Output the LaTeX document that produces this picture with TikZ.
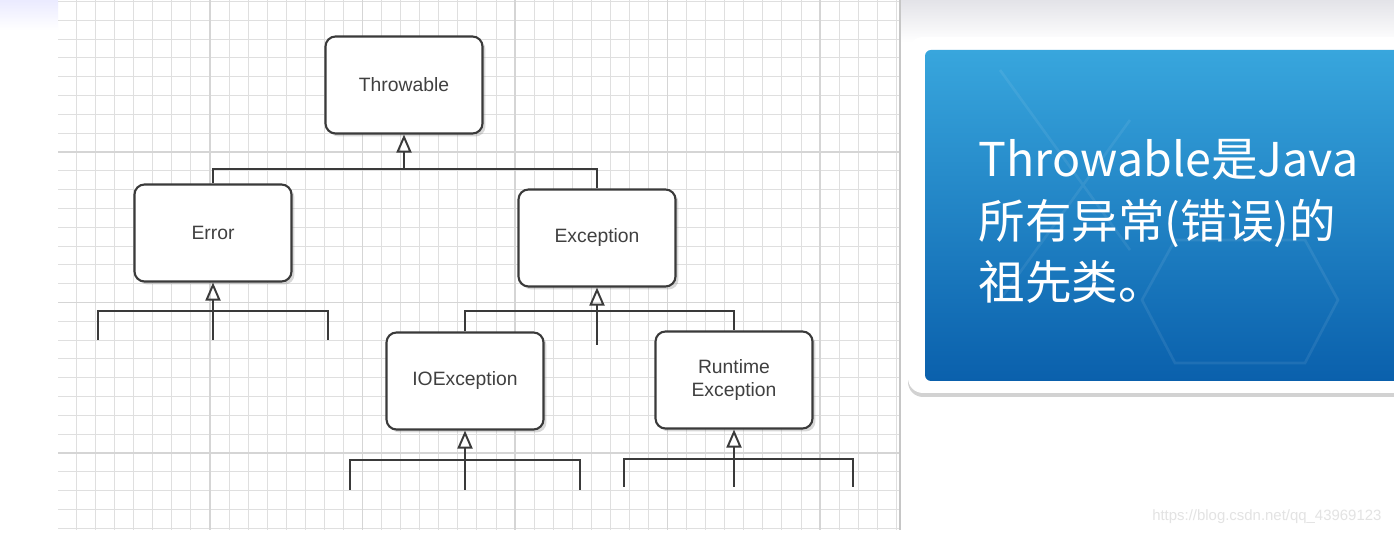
\documentclass[tikz,border=0pt]{standalone}
\usepackage{fontspec}
\setmainfont{Liberation Sans}
\newfontfamily\cjk{Noto Sans CJK SC}
\usepackage{tikz}
\usepackage{xcolor}
\usetikzlibrary{arrows.meta,shapes,positioning,shadows,calc}
\definecolor{slidetop}{HTML}{38A6DD}
\definecolor{slidedeep}{HTML}{0A60AC}
\definecolor{boxline}{HTML}{3A3A3A}

\begin{document}
\begin{tikzpicture}[x=0.02cm, y=-0.02cm, thick,
    class/.style={draw=boxline, line width=1.2pt, rounded corners=0.2cm, fill=white,
      minimum width=3.14cm, minimum height=1.94cm, align=center, text=black!75,
      font=\fontsize{11}{13.5}\selectfont,
      drop shadow={opacity=0.3, shadow xshift=0.06cm, shadow yshift=-0.06cm}},
    link/.style={draw=boxline, line width=1.1pt},
    inherit/.style={link, -{Triangle[open, length=0.36cm, width=0.3cm]}}]
    \useasboundingbox (0,0) rectangle (1394,536);

    % Slide background
    \fill[white] (0,0) rectangle (1394,536);
    \shade[top color=blue!10!gray!20, bottom color=white] (900,0) rectangle (1394,42);
    \shade[top color=blue!8, bottom color=white] (0,0) rectangle (58,30);

    % Grid paper
    \begin{scope}
      \clip (58,0) rectangle (900,530);
      \foreach \k in {0,...,44}
        \draw[gray!25, line width=0.5pt] ({57.5+\k*19.0625},0) -- ++(0,530);
      \foreach \k in {0,...,28}
        \draw[gray!25, line width=0.5pt] (58,{1.5+\k*18.8125}) -- ++(842,0);
      \foreach \gx in {210,362.5,515,667.5,820}
        \draw[gray!33, line width=0.6pt] (\gx,0) -- ++(0,530);
      \foreach \gy in {152,302.5,453}
        \draw[gray!33, line width=0.6pt] (58,\gy) -- ++(842,0);
    \end{scope}
    \draw[gray!45, line width=0.6pt] (900,0) -- (900,530);

    % Classes
    \node[class] (throwable) at (404,85) {Throwable};
    \node[class] (error) at (213,233) {Error};
    \node[class] (exception) at (597,238) {Exception};
    \node[class] (ioexc) at (465,381) {IOException};
    \node[class] (runtime) at (734,380) {Runtime\\Exception};

    % Throwable subclasses
    \coordinate (t-bar) at (404,169);
    \draw[link] (error.north) |- (t-bar) -| (exception.north);
    \draw[inherit] (t-bar) -- (throwable);

    % Error subclasses (stubs)
    \coordinate (e-bar) at (213,311);
    \coordinate (e-left) at (98,340);
    \coordinate (e-right) at (328,340);
    \coordinate (e-stub) at (213,340);
    \draw[link] (e-left) |- (e-bar) -| (e-right);
    \draw[inherit] (e-stub) -- (error);

    % Exception subclasses
    \coordinate (x-bar) at (597,311);
    \coordinate (x-stub) at (597,345);
    \draw[link] (ioexc.north) |- (x-bar) -| (runtime.north);
    \draw[inherit] (x-stub) -- (exception);

    % IOException subclasses (stubs)
    \coordinate (io-bar) at (465,460);
    \coordinate (io-left) at (350,490);
    \coordinate (io-right) at (580,490);
    \coordinate (io-stub) at (465,490);
    \draw[link] (io-left) |- (io-bar) -| (io-right);
    \draw[inherit] (io-stub) -- (ioexc);

    % RuntimeException subclasses (stubs)
    \coordinate (rt-bar) at (734,459);
    \coordinate (rt-left) at (624,487);
    \coordinate (rt-right) at (853,487);
    \coordinate (rt-stub) at (734,487);
    \draw[link] (rt-left) |- (rt-bar) -| (rt-right);
    \draw[inherit] (rt-stub) -- (runtime);

    % Note card
    \fill[white, rounded corners=0.3cm,
      drop shadow={opacity=0.35, shadow xshift=0cm, shadow yshift=-0.08cm}]
      (908,37) rectangle (1430,393);
    \shade[top color=slidetop, bottom color=slidedeep, rounded corners=0.12cm]
      (925,50) rectangle (1430,381);
    \draw[white, opacity=0.08, line width=1.5pt]
      (1175,240) -- (1305,240) -- (1338,300) -- (1305,363) -- (1175,363) -- (1142,300) -- cycle;
    \draw[white, opacity=0.07, line width=1.5pt] (1000,70) -- (1130,250) (1000,300) -- (1130,120);
    \node[anchor=north west, align=left, inner sep=0pt, text=white,
      font=\cjk\fontsize{26.5}{35}\selectfont] (note) at (978,139)
      {Throwable是Java\\所有异常(错误)的\\祖先类。};

    % Watermark
    \node[anchor=east, text=gray!22, font=\fontsize{8.5}{10}\selectfont] (mark) at (1388,517)
      {https://blog.csdn.net/qq\_43969123};
\end{tikzpicture}
\end{document}
